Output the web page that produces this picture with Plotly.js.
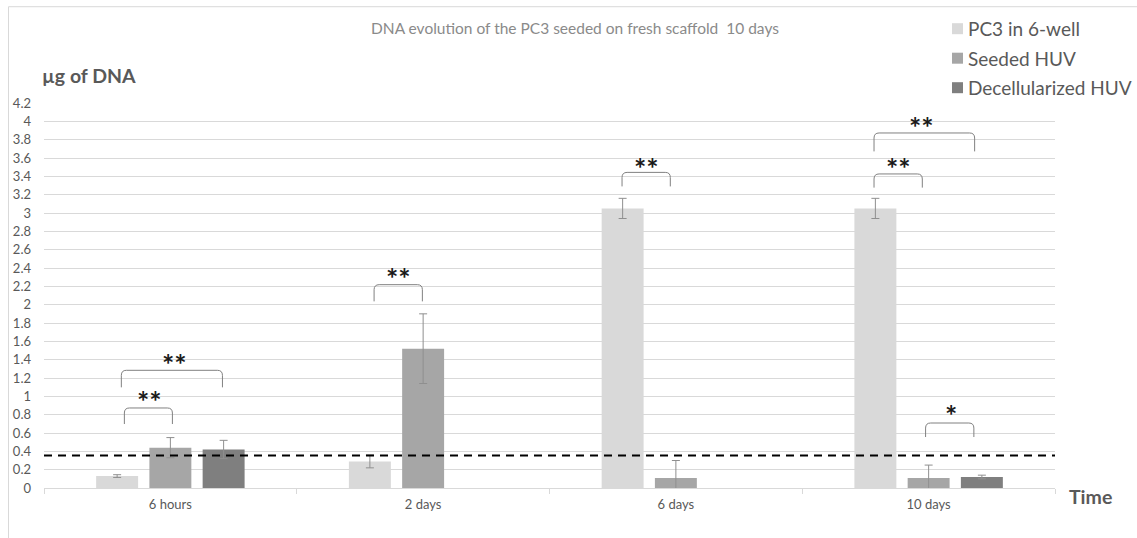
<!DOCTYPE html>
<html>
<head>
<meta charset="utf-8">
<script src="https://cdn.plot.ly/plotly-3.0.1.min.js"></script>
<style>
  html, body { margin: 0; padding: 0; background: #ffffff; }
  #chart { width: 1137px; height: 538px; }
</style>
</head>
<body>
<div id="chart"></div>
<script>
// ---------- data ----------
const categories = ["6 hours", "2 days", "6 days", "10 days"];
const seriesNames = ["PC3 in 6-well", "Seeded HUV", "Decellularized HUV"];
const seriesColors = ["#d9d9d9", "#a6a6a6", "#7f7f7f"];

const pc3Values = [0.13, 0.29, 3.05, 3.05];
const pc3Errors = [0.015, 0.07, 0.11, 0.11];
const seededValues = [0.44, 1.52, 0.11, 0.11];
const seededErrors = [0.11, 0.38, 0.19, 0.14];
const decellValues = [0.42, null, null, 0.12];
const decellErrors = [0.10, null, null, 0.02];

const thresholdValue = 0.355;

// significance brackets: category index, left/right offset (in category units), top / leg bottom (µg)
const bracketCat = [0, 0, 1, 2, 3, 3, 3];
const bracketX0 = [-0.182, -0.194, -0.194, -0.213, -0.216, -0.216, -0.012];
const bracketX1 = [0.008, 0.206, -0.003, -0.022, 0.182, -0.025, 0.179];
const bracketTop = [0.873, 1.284, 2.218, 3.443, 3.873, 3.426, 0.709];
const bracketBottom = [0.698, 1.098, 2.036, 3.290, 3.672, 3.277, 0.556];

// significance marks
const sigCat = [0, 0, 1, 2, 3, 3, 3];
const sigX = [-0.084, 0.017, -0.099, -0.116, -0.030, -0.119, 0.087];
const sigY = [1.007, 1.410, 2.352, 3.552, 3.993, 3.547, 0.854];
const sigText = ["**", "**", "**", "**", "**", "**", "*"];

const yTickVals = [0, 0.2, 0.4, 0.6, 0.8, 1, 1.2, 1.4, 1.6, 1.8, 2, 2.2, 2.4, 2.6, 2.8, 3, 3.2, 3.4, 3.6, 3.8, 4, 4.2];

// ---------- chart ----------
const FONT = "Lato, 'Open Sans', sans-serif";
const errStyle = { color: "#8f8f8f", thickness: 1, width: 4 };

function barTrace(name, vals, errs, color) {
  return {
    type: "bar",
    name: name,
    x: categories,
    y: vals,
    marker: { color: color },
    error_y: Object.assign({ type: "data", array: errs, visible: true }, errStyle),
    hoverinfo: "skip",
    showlegend: false
  };
}

const traces = [
  barTrace(seriesNames[0], pc3Values, pc3Errors, seriesColors[0]),
  barTrace(seriesNames[1], seededValues, seededErrors, seriesColors[1]),
  barTrace(seriesNames[2], decellValues, decellErrors, seriesColors[2])
];

const shapes = [];
const annotations = [];

// outer chart border
shapes.push({
  type: "rect", xref: "paper", yref: "paper",
  x0: -0.0351, x1: 1.3, y0: -0.4, y1: 1.2501,
  line: { color: "#d9d9d9", width: 1 }, fillcolor: "rgba(0,0,0,0)", layer: "below"
});

// dashed threshold line
shapes.push({
  type: "line", xref: "paper", yref: "y",
  x0: 0, x1: 1, y0: thresholdValue, y1: thresholdValue,
  line: { color: "#000000", width: 2, dash: "8px,6px" }, layer: "above"
});

// brackets
for (let i = 0; i < bracketCat.length; i++) {
  const c = bracketCat[i];
  const x0 = c + bracketX0[i], x1 = c + bracketX1[i];
  const yt = bracketTop[i], yb = bracketBottom[i];
  const rx = 0.02, ry = 0.055;
  const p = `M ${x0},${yb} L ${x0},${yt - ry} Q ${x0},${yt} ${x0 + rx},${yt} L ${x1 - rx},${yt} Q ${x1},${yt} ${x1},${yt - ry} L ${x1},${yb}`;
  shapes.push({ type: "path", xref: "x", yref: "y", path: p, line: { color: "#808080", width: 1 }, layer: "above" });
}

// significance marks
for (let i = 0; i < sigCat.length; i++) {
  annotations.push({
    xref: "x", yref: "y", x: sigCat[i] + sigX[i], y: sigY[i],
    text: sigText[i], showarrow: false, xanchor: "center", yanchor: "middle", yshift: -5,
    font: { family: FONT, size: 29, color: "#1a1a1a", weight: "bold" }
  });
}

// axis titles
annotations.push({
  xref: "paper", yref: "paper", x: -0.0035, y: 1.071, xanchor: "left", yanchor: "middle",
  text: "<b>µg of DNA</b>", showarrow: false,
  font: { family: FONT, size: 19.5, color: "#595959" }
});
annotations.push({
  xref: "paper", yref: "paper", x: 1.0119, y: -0.0226, xanchor: "left", yanchor: "middle",
  text: "<b>Time</b>", showarrow: false,
  font: { family: FONT, size: 19.5, color: "#595959" }
});

// custom legend
const legendPixY = [29, 58.5, 88];
for (let i = 0; i < seriesNames.length; i++) {
  const py = legendPixY[i];
  shapes.push({
    type: "rect", xref: "paper", yref: "paper",
    x0: (952 - 44) / 1011, x1: (963 - 44) / 1011,
    y0: (488.3 - py - 5.5) / 385, y1: (488.3 - py + 5.5) / 385,
    fillcolor: seriesColors[i], line: { width: 0 }
  });
  annotations.push({
    xref: "paper", yref: "paper", x: (966 - 44) / 1011, y: (488.3 - py) / 385,
    xanchor: "left", yanchor: "middle", text: seriesNames[i], showarrow: false,
    font: { family: FONT, size: 19, color: "#595959" }
  });
}

const layout = {
  width: 1137, height: 538,
  margin: { l: 44, r: 82, t: 103, b: 50, pad: 0 },
  paper_bgcolor: "#ffffff", plot_bgcolor: "#ffffff",
  font: { family: FONT, size: 13, color: "#595959" },
  title: {
    text: "DNA evolution of the PC3 seeded on fresh scaffold&nbsp; 10 days",
    x: 575 / 1137, xref: "container", xanchor: "center",
    y: 1 - 29 / 538, yref: "container", yanchor: "middle",
    font: { family: FONT, size: 15.5, color: "#8a8a8a" }
  },
  barmode: "group",
  bargap: 0.368,
  bargroupgap: 0.212,
  showlegend: false,
  xaxis: {
    type: "category",
    range: [-0.5, 3.5],
    showline: true, linecolor: "#d9d9d9", linewidth: 1,
    ticks: "outside", tickson: "boundaries", ticklen: 5, tickcolor: "#d9d9d9",
    showgrid: false, zeroline: false,
    tickfont: { family: FONT, size: 13, color: "#595959" },
    ticklabelstandoff: 4,
    fixedrange: true
  },
  yaxis: {
    range: [0, 4.2],
    tickmode: "array", tickvals: yTickVals,
    showgrid: true, gridcolor: "#d9d9d9", gridwidth: 1,
    zeroline: false, showline: false, ticks: "",
    tickfont: { family: FONT, size: 13, color: "#595959" },
    ticklabelstandoff: 12,
    fixedrange: true
  },
  shapes: shapes,
  annotations: annotations
};

Plotly.newPlot("chart", traces, layout, { staticPlot: true, displayModeBar: false });
</script>
</body>
</html>
